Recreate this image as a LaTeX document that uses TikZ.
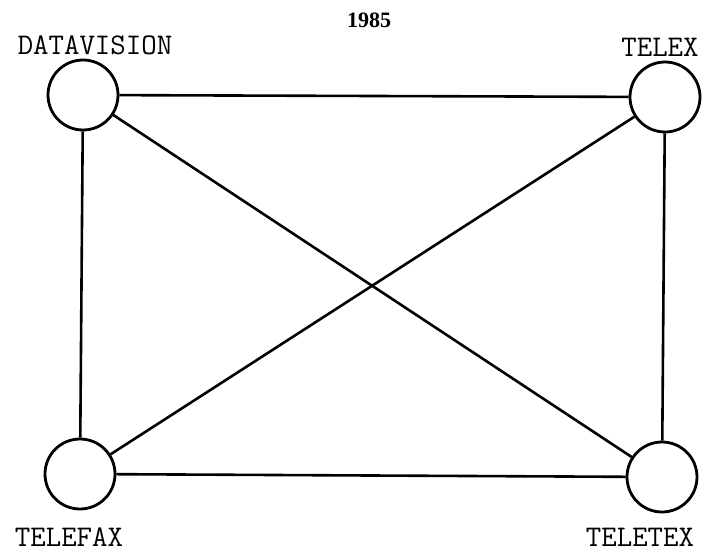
\documentclass[tikz,border=0pt]{standalone}
\usepackage{fontspec}
\setmainfont{Liberation Serif}
\usetikzlibrary{positioning}

\begin{document}
\begin{tikzpicture}[
          x=1pt, y=-1pt,
          station/.style={draw, circle, line width=2.8pt, minimum size=70pt, inner sep=0pt},
          etiqueta/.style={font=\fontsize{30}{32}\selectfont\ttfamily, inner sep=0pt},
          enlace/.style={line width=2.6pt}
        ]
        \useasboundingbox (0,0) rectangle (705,554);
        \node[font=\fontsize{22}{24}\selectfont\bfseries] (year) at (369,20) {1985};
        \node[station] (dv) at (83,95) {};
        \node[station] (tx) at (665,97) {};
        \node[station] (tf) at (80,474) {};
        \node[station] (tt) at (662,477) {};
        \node[etiqueta] (ldv) at (95,45) {DATAVISION};
        \node[etiqueta] (ltx) at (660,47) {TELEX};
        \node[etiqueta] (ltf) at (69,537) {TELEFAX};
        \node[etiqueta] (ltt) at (640,537) {TELETEX};
        \draw[enlace] (dv)--(tx);
        \draw[enlace] (dv)--(tf);
        \draw[enlace] (dv)--(tt);
        \draw[enlace] (tx)--(tf);
        \draw[enlace] (tx)--(tt);
        \draw[enlace] (tf)--(tt);
      \end{tikzpicture}
\end{document}
